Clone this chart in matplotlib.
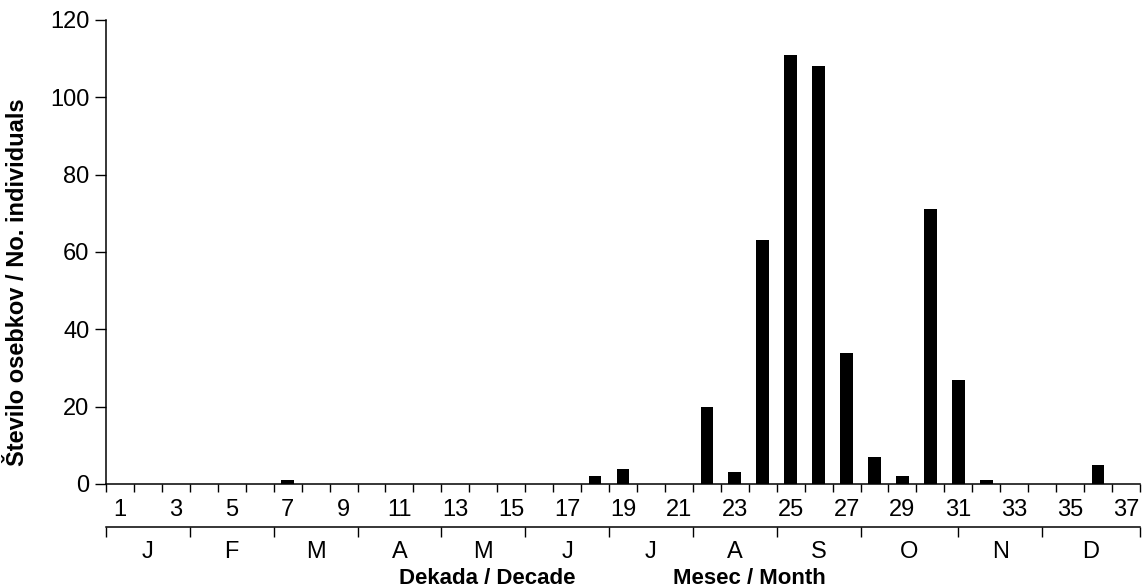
import matplotlib
matplotlib.use("Agg")
import matplotlib.pyplot as plt
import numpy as np

plt.rcParams['font.family'] = ['Liberation Sans Narrow', 'Liberation Sans', 'DejaVu Sans']

# decade number -> count of individuals
decades = [7, 18, 19, 22, 23, 24, 25, 26, 27, 28, 29, 30, 31, 32, 36]
counts = [1, 2, 4, 20, 3, 63, 111, 108, 34, 7, 2, 71, 27, 1, 5]

n_decades = 37
decade_labels = [str(i) for i in range(1, n_decades + 1, 2)]
months = ['J', 'F', 'M', 'A', 'M', 'J', 'J', 'A', 'S', 'O', 'N', 'D']
month_edges = [0, 3, 6, 9, 12, 15, 18, 21, 24, 27, 30.5, 33.5, 37]

fig = plt.figure(figsize=(11.43, 5.87), dpi=100)
ax = fig.add_axes([106 / 1143, 1 - 484 / 587, 1034 / 1143, 464 / 587])

x = np.array(decades) - 0.5
ax.bar(x, counts, width=0.45, color='black')

ax.set_xlim(0, n_decades)
ax.set_ylim(0, 120)
ax.set_yticks(range(0, 121, 20))
ax.tick_params(axis='y', direction='out', length=8, width=1, labelsize=17, pad=4)

ax.spines['top'].set_visible(False)
ax.spines['right'].set_visible(False)
for s in ['left', 'bottom']:
    ax.spines[s].set_linewidth(1.1)

# decade ticks at boundaries, labels at centres of odd decades
ax.set_xticks(np.arange(0, n_decades + 1))
ax.set_xticklabels([])
ax.tick_params(axis='x', which='major', direction='out', length=6, width=1)
ax.set_xticks(np.arange(0.5, n_decades, 2), minor=True)
ax.set_xticklabels(decade_labels, minor=True)
ax.tick_params(axis='x', which='minor', length=0, labelsize=17, pad=11)

# month axis below
sec = ax.secondary_xaxis(-0.093)
sec.spines['bottom'].set_linewidth(1.1)
sec.set_xticks(month_edges)
sec.set_xticklabels([])
sec.tick_params(axis='x', which='major', direction='out', length=7, width=1)
centres = [(month_edges[i] + month_edges[i + 1]) / 2 for i in range(len(months))]
sec.set_xticks(centres, minor=True)
sec.set_xticklabels(months, minor=True)
sec.tick_params(axis='x', which='minor', length=0, labelsize=17, pad=10)

fig.text(487 / 1143, 1 - 578 / 587, 'Dekada / Decade', ha='center', va='center',
         fontsize=16, fontweight='bold')
fig.text(749 / 1143, 1 - 578 / 587, 'Mesec / Month', ha='center', va='center',
         fontsize=16, fontweight='bold')
fig.text(18 / 1143, 1 - 282 / 587, 'Število osebkov / No. individuals', rotation=90,
         ha='center', va='center', fontsize=17, fontweight='bold')

fig.savefig('out.png', dpi=100)
